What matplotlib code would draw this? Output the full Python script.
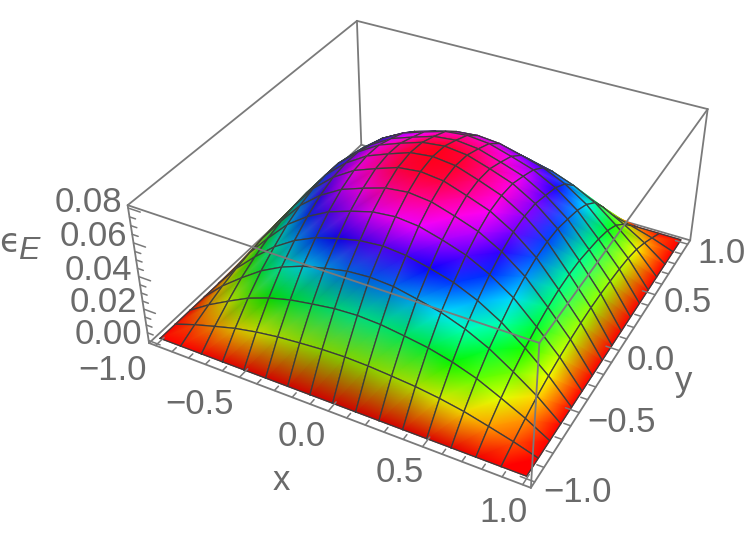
import numpy as np
import matplotlib
matplotlib.use("Agg")
import matplotlib.pyplot as plt
from matplotlib.collections import TriMesh
from matplotlib.tri import Triangulation
from mpl_toolkits.mplot3d import proj3d

plt.rcParams["font.family"] = ["Liberation Sans", "DejaVu Sans"]

z_rows = [
    [0, 0, 0, 0, 0, 0, 0, 0, 0],
    [.0190, .0186, .0176, .0164, .0145, .0119, .0083, .0045, 0],
    [.0350, .0343, .0324, .0302, .0267, .0219, .0153, .0083, 0],
    [.0490, .0481, .0453, .0421, .0371, .0303, .0214, .0117, 0],
    [.0590, .0578, .0548, .0510, .0450, .0368, .0262, .0143, 0],
    [.0680, .0667, .0630, .0585, .0516, .0425, .0298, .0162, 0],
    [.0745, .0730, .0689, .0642, .0567, .0465, .0326, .0177, 0],
    [.0790, .0775, .0730, .0681, .0601, .0493, .0345, .0187, 0],
    [.0805, .0790, .0745, .0695, .0615, .0505, .0353, .0192, 0],
    [.0795, .0780, .0738, .0690, .0612, .0503, .0352, .0191, 0],
    [.0760, .0746, .0705, .0660, .0585, .0482, .0338, .0184, 0],
    [.0720, .0707, .0668, .0625, .0556, .0458, .0322, .0176, 0],
    [.0650, .0638, .0604, .0566, .0505, .0418, .0295, .0162, 0],
    [.0540, .0531, .0503, .0471, .0421, .0353, .0250, .0137, 0],
    [.0380, .0373, .0354, .0332, .0297, .0249, .0178, .0098, 0],
    [.0200, .0196, .0186, .0174, .0155, .0129, .0090, .0050, 0],
    [0, 0, 0, 0, 0, 0, 0, 0, 0],
]
x_labels = ["\u22121.0", "\u22120.5", "0.0", "0.5", "1.0"]
y_labels = ["\u22121.0", "\u22120.5", "0.0", "0.5", "1.0"]
z_labels = ["0.00", "0.02", "0.04", "0.06", "0.08"]

# label centres in pixels
x_label_px = [(113, 370), (200, 405), (302, 437), (400, 473), (503, 512)]
y_label_px = [(578, 493), (622, 423), (651, 360), (688, 303), (721, 253)]
z_label_px = [(142, 334), (137, 302), (132, 270), (127, 237), (122, 202)]

GREY = "#6a6a6a"
BOX = "#7a7a7a"
MESH = "#3c3c3c"
W, H = 747, 556
XL = (-1.04, 1.04)
YL = (-1.04, 1.04)
ZL = (-0.0016, 0.0816)


class Cell(TriMesh):
    # surface patch already projected to the 2d coords of the 3d axes
    def do_3d_projection(self):
        return 0

    def update_scalarmappable(self):
        pass


fig = plt.figure(figsize=(W / 100, H / 100), dpi=100)
scale, cx, cy = 1390.37, 432.70, 331.75
side = 0.185 * scale
ax = fig.add_axes([(cx - 0.095 * scale) / W, (cy - 0.095 * scale) / H, side / W, side / H],
                  projection="3d", computed_zorder=False)
ax.set_axis_off()
ax.patch.set_visible(False)
ax.set_autoscale_on(False)
ax.set_xlim(*XL)
ax.set_ylim(*YL)
ax.set_zlim(*ZL)
ax.view_init(35.56, -62.03, 0)
ax.set_box_aspect((1, 1, 0.4))
ax.set_proj_type("persp", focal_length=1)
ax._dist = 4.365


def seg(xs, ys, zs, zorder, color=BOX, lw=1.3):
    ax.plot(xs, ys, zs, color=color, lw=lw, zorder=zorder, clip_on=False,
            solid_capstyle="round")


# back edges of the box
x0, x1 = XL
y0, y1 = YL
z0, z1 = ZL
seg([x0, x0], [y0, y1], [z0, z0], 1)
seg([x0, x1], [y1, y1], [z0, z0], 1)
seg([x0, x0], [y1, y1], [z0, z1], 1)
seg([x0, x0], [y0, y1], [z1, z1], 1)
seg([x0, x1], [y1, y1], [z1, z1], 1)

# surface, x mirrored from the |x| columns
half = np.array(z_rows)
Z = np.hstack([half[:, :0:-1], half])
gx = np.linspace(-1, 1, 17)
gy = np.linspace(-1, 1, 17)
X, Y = np.meshgrid(gx, gy)

dzdy, dzdx = np.gradient(Z, gy, gx)
k = 10.0
nrm = np.sqrt((k * dzdx) ** 2 + (k * dzdy) ** 2 + 1)
nx, ny, nz = -k * dzdx / nrm, -k * dzdy / nrm, 1 / nrm
light = np.array([0.6, 0.3, 0.75])
shade = np.clip(0.74 + 0.45 * (nx * light[0] + ny * light[1] + nz * light[2]), 0, 1)

rgba = plt.get_cmap("hsv")(np.clip(Z / 0.08, 0, 0.999).ravel())
rgba[:, :3] *= shade.ravel()[:, None]

ax.M = ax.get_proj()
u, v, _ = proj3d.proj_transform(X.ravel(), Y.ravel(), Z.ravel(), ax.M)

n = len(gx)
order = 10
for i in range(n - 2, -1, -1):      # back rows first, camera sits at +x, -y
    for j in range(n - 1):
        a = i * n + j
        b = a + 1
        c = a + n + 1
        d = a + n
        tri = Triangulation(u, v, triangles=[[a, b, c], [a, c, d]])
        cell = Cell(tri, zorder=order, clip_on=False)
        cell._facecolors = rgba
        ax.add_collection(cell, autolim=False)
        cell.set_transform(ax.transData)
        ax.plot([X[i, j], X[i, j + 1], X[i + 1, j + 1], X[i + 1, j], X[i, j]],
                [Y[i, j], Y[i, j + 1], Y[i + 1, j + 1], Y[i + 1, j], Y[i, j]],
                [Z[i, j], Z[i, j + 1], Z[i + 1, j + 1], Z[i + 1, j], Z[i, j]],
                color=MESH, lw=0.95, zorder=order + 0.5, clip_on=False)
        order += 1

# front edges go over the surface
top = order + 5
seg([x0, x1], [y0, y0], [z0, z0], top)
seg([x1, x1], [y0, y1], [z0, z0], top)
seg([x0, x0], [y0, y0], [z0, z1], top)
seg([x1, x1], [y0, y0], [z0, z1], top)
seg([x1, x1], [y1, y1], [z0, z1], top)
seg([x0, x1], [y0, y0], [z1, z1], top)
seg([x1, x1], [y0, y1], [z1, z1], top)

# ticks point into the box
for t in np.arange(-10, 11) / 10:
    is_major = abs(t * 2 - round(t * 2)) < 1e-9
    ln = 0.07 if is_major else 0.035
    seg([t, t], [y0, y0 + ln], [z0, z0], top, lw=1.1)
    seg([x1, x1 - ln], [t, t], [z0, z0], top, lw=1.1)
for t in np.arange(0, 17) * 0.005:
    is_major = int(round(t / 0.005)) % 4 == 0
    ln = 0.07 if is_major else 0.035
    seg([x0, x0 + ln], [y0, y0], [t, t], top, lw=1.1)

FS = 25
for lab, (px, py) in zip(x_labels, x_label_px):
    fig.text(px / W, 1 - py / H, lab, ha="center", va="center", fontsize=FS, color=GREY)
for lab, (px, py) in zip(y_labels, y_label_px):
    fig.text(px / W, 1 - py / H, lab, ha="center", va="center", fontsize=FS, color=GREY)
for lab, (px, py) in zip(z_labels, z_label_px):
    fig.text(px / W, 1 - py / H, lab, ha="right", va="center", fontsize=FS, color=GREY)

fig.text(281 / W, 1 - 480 / H, "x", ha="center", va="center", fontsize=FS, color=GREY)
fig.text(684 / W, 1 - 382 / H, "y", ha="center", va="center", fontsize=FS, color=GREY)
fig.text(9 / W, 1 - 243 / H, "\u03f5", ha="center", va="center", fontsize=24,
         color=GREY, family="DejaVu Sans")
fig.text(29 / W, 1 - 251 / H, "E", ha="center", va="center", fontsize=23, color=GREY,
         style="italic")

fig.savefig("out.png", dpi=100)
